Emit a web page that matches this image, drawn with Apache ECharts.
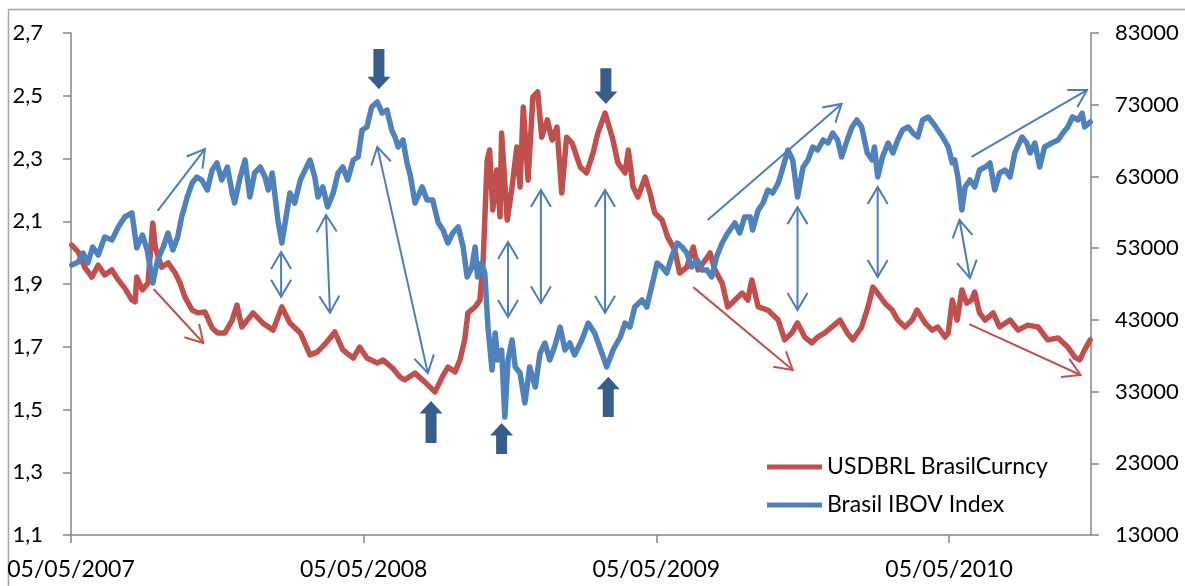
<!DOCTYPE html>
<html>
<head>
<meta charset="utf-8">
<script src="https://cdn.jsdelivr.net/npm/echarts@6/dist/echarts.min.js"></script>
<style>
  html, body { margin: 0; padding: 0; background: #ffffff; }
  #chart { width: 1185px; height: 586px; }
</style>
</head>
<body>
<div id="chart"></div>
<script>
// ---- data (x = days since 05/05/2007) ----
const startDate = '05/05/2007';
const xTickLabels = ['05/05/2007', '05/05/2008', '05/05/2009', '05/05/2010'];
const leftTicks = [1.1, 1.3, 1.5, 1.7, 1.9, 2.1, 2.3, 2.5, 2.7];
const rightTicks = [13000, 23000, 33000, 43000, 53000, 63000, 73000, 83000];
const seriesNames = ['USDBRL BrasilCurncy', 'Brasil IBOV Index'];

const usdbrl = [[1,2.024],[9,2.002],[17,1.954],[26,1.922],[34,1.960],[42,1.929],[51,1.945],[59,1.913],[67,1.887],[76,1.849],[80,1.843],[82,1.922],[89,1.881],[96,1.903],[102,2.094],[105,2.018],[113,1.954],[121,1.967],[130,1.935],[136,1.903],[142,1.859],[151,1.817],[158,1.808],[167,1.811],[176,1.760],[183,1.744],[192,1.744],[201,1.785],[207,1.833],[213,1.763],[227,1.808],[239,1.776],[252,1.753],[263,1.827],[273,1.776],[286,1.744],[298,1.674],[307,1.683],[319,1.715],[329,1.747],[339,1.690],[352,1.664],[360,1.699],[369,1.664],[382,1.648],[389,1.658],[401,1.632],[410,1.604],[416,1.594],[429,1.616],[441,1.588],[454,1.556],[463,1.604],[470,1.635],[479,1.620],[485,1.658],[491,1.722],[495,1.808],[504,1.827],[510,1.849],[514,1.976],[519,2.295],[522,2.327],[526,2.136],[531,2.263],[535,2.114],[537,2.381],[544,2.104],[550,2.209],[556,2.337],[560,2.209],[564,2.464],[570,2.231],[576,2.496],[582,2.512],[587,2.368],[594,2.423],[600,2.359],[606,2.400],[612,2.190],[618,2.368],[625,2.349],[635,2.273],[643,2.254],[651,2.317],[657,2.381],[666,2.445],[675,2.368],[682,2.286],[691,2.254],[695,2.327],[701,2.209],[707,2.177],[716,2.241],[722,2.190],[728,2.126],[737,2.104],[744,2.050],[753,2.008],[759,1.935],[768,1.954],[776,2.018],[782,1.945],[791,1.976],[797,1.999],[803,1.945],[812,1.903],[819,1.827],[828,1.849],[837,1.871],[844,1.849],[849,1.913],[857,1.827],[869,1.817],[882,1.785],[890,1.722],[899,1.744],[906,1.776],[915,1.731],[924,1.712],[931,1.731],[940,1.744],[949,1.763],[959,1.785],[968,1.744],[975,1.722],[986,1.763],[994,1.827],[1000,1.890],[1006,1.871],[1015,1.839],[1024,1.817],[1031,1.785],[1040,1.763],[1049,1.785],[1055,1.817],[1065,1.776],[1074,1.753],[1081,1.763],[1090,1.731],[1094,1.744],[1099,1.849],[1105,1.785],[1111,1.881],[1117,1.839],[1123,1.849],[1127,1.874],[1133,1.808],[1140,1.785],[1150,1.808],[1158,1.763],[1171,1.785],[1181,1.753],[1193,1.769],[1206,1.763],[1218,1.722],[1231,1.728],[1243,1.699],[1252,1.667],[1258,1.658],[1264,1.690],[1271,1.722]];

const ibov = [[1,50650],[9,51070],[15,52320],[21,50930],[27,53160],[34,52040],[42,54550],[51,54130],[59,55950],[67,57340],[76,57900],[82,53020],[89,54830],[95,52740],[102,48140],[108,51350],[115,53160],[121,55110],[127,52740],[133,54550],[138,57340],[145,60130],[151,62080],[157,62920],[163,62500],[170,61110],[176,63900],[182,64870],[188,62500],[195,64310],[201,60690],[204,59290],[211,62920],[217,65290],[223,60130],[229,63480],[236,64310],[242,62920],[246,61110],[251,63480],[254,60690],[258,56920],[263,53720],[269,57900],[273,60690],[279,59290],[286,62500],[292,63900],[298,65290],[304,62920],[308,60130],[314,61530],[320,58740],[327,60690],[333,63480],[339,64310],[345,62500],[352,65290],[358,65710],[363,69470],[369,69890],[375,72680],[382,73380],[388,71840],[394,72260],[400,69470],[404,68500],[408,67100],[414,68080],[419,64870],[423,63200],[429,59290],[438,61530],[444,59710],[451,59710],[458,56510],[464,55530],[470,53720],[476,55110],[483,55950],[489,53160],[494,48980],[500,50370],[504,53160],[507,48980],[512,50930],[516,49530],[520,42000],[525,36010],[529,41170],[532,37400],[537,38800],[541,29450],[545,37400],[550,40190],[554,36430],[560,35590],[566,31410],[572,36430],[579,33640],[585,38380],[591,39770],[597,37400],[603,39210],[610,42000],[616,38800],[622,39770],[628,38100],[637,40190],[645,42560],[653,41170],[662,38380],[668,36430],[676,38800],[685,40610],[691,42560],[697,42000],[703,44790],[712,45770],[718,44790],[724,47580],[731,50930],[737,50370],[743,49530],[749,51760],[756,53720],[762,53160],[768,52320],[774,50370],[781,51350],[787,49950],[793,49950],[799,48980],[805,51760],[812,53720],[819,55110],[828,56510],[834,55110],[840,57340],[847,57340],[850,55530],[857,58320],[863,59290],[869,61110],[875,60690],[882,62080],[888,64310],[894,66680],[900,65290],[906,60130],[913,64310],[919,65290],[925,67100],[931,66680],[938,68080],[944,67660],[950,69050],[956,68080],[961,65710],[968,68080],[974,69890],[980,70870],[986,69890],[993,66270],[999,65290],[1002,67100],[1006,62920],[1012,65710],[1019,67660],[1025,66270],[1031,68080],[1037,69470],[1044,69890],[1050,69050],[1056,68500],[1062,70870],[1069,71290],[1075,70450],[1081,69470],[1087,68500],[1094,67100],[1099,64870],[1102,65290],[1106,62920],[1111,58320],[1115,61530],[1121,62500],[1127,61530],[1133,63900],[1140,64310],[1146,64870],[1152,61110],[1158,63480],[1165,63900],[1171,62920],[1177,66270],[1186,68500],[1192,67660],[1196,66270],[1202,67660],[1208,64310],[1214,67100],[1223,67660],[1231,68080],[1237,69050],[1243,69890],[1249,71290],[1256,70870],[1261,71840],[1264,69890],[1271,70590]];

// annotation arrows: [day1, v1, day2(head), v2(head), headAtStart(0/1), colour(0 blue / 1 red)] in left-axis units
const thinArrows = [
  [108,2.133,167,2.330,0,0],
  [103,1.884,165,1.712,0,1],
  [262,1.859,262,2.002,1,0],
  [323,1.808,318,2.120,1,0],
  [445,1.616,382,2.337,1,0],
  [545,1.795,545,2.034,1,0],
  [586,1.839,586,2.200,1,0],
  [666,1.808,666,2.200,1,0],
  [794,2.104,961,2.474,0,0],
  [776,1.890,900,1.626,0,1],
  [906,1.817,906,2.145,1,0],
  [1006,1.922,1006,2.209,1,0],
  [1121,1.919,1108,2.104,1,0],
  [1123,2.305,1267,2.518,0,0],
  [1120,1.772,1259,1.610,0,1]
];
// block arrows: [day, tip value, tail value] in left-axis units
const blockArrows = [
  [384,2.521,2.649],
  [449,1.527,1.393],
  [537,1.457,1.358],
  [670,1.604,1.476],
  [667,2.474,2.588]
];

const RED = '#C0504D', BLUE = '#4F81BD', ARROW_BLUE = '#4A7EBB', DARK = '#385D8A';
const FONT = 'Lato, "Open Sans", sans-serif';

const chart = echarts.init(document.getElementById('chart'), null, { renderer: 'canvas' });

function thinArrowItem(params, api) {
  const p1 = api.coord([api.value(0), api.value(1)]);
  const p2 = api.coord([api.value(2), api.value(3)]);
  const both = api.value(4) === 1;
  const color = api.value(5) === 1 ? RED : ARROW_BLUE;
  const children = [{
    type: 'line',
    shape: { x1: p1[0], y1: p1[1], x2: p2[0], y2: p2[1] },
    style: { stroke: color, lineWidth: 2 }
  }];
  function head(tip, from) {
    const dx = tip[0] - from[0], dy = tip[1] - from[1];
    const len = Math.sqrt(dx * dx + dy * dy) || 1;
    const ux = dx / len, uy = dy / len;
    const nx = -uy, ny = ux;
    const L = 17, W = 10;
    return {
      type: 'polyline',
      shape: { points: [
        [tip[0] - L * ux + W * nx, tip[1] - L * uy + W * ny],
        [tip[0], tip[1]],
        [tip[0] - L * ux - W * nx, tip[1] - L * uy - W * ny]
      ] },
      style: { stroke: color, lineWidth: 2, fill: null }
    };
  }
  children.push(head(p2, p1));
  if (both) children.push(head(p1, p2));
  return { type: 'group', children: children };
}

function blockArrowItem(params, api) {
  const tip = api.coord([api.value(0), api.value(1)]);
  const tail = api.coord([api.value(0), api.value(2)]);
  const x = tip[0];
  const dir = tail[1] > tip[1] ? 1 : -1;
  const hb = tip[1] + dir * 12.5;
  const sw = 5.5, hw = 11.5;
  return {
    type: 'polygon',
    shape: { points: [
      [x - sw, tail[1]], [x + sw, tail[1]], [x + sw, hb], [x + hw, hb],
      [x, tip[1]], [x - hw, hb], [x - sw, hb]
    ] },
    style: { fill: DARK }
  };
}

const option = {
  animation: false,
  backgroundColor: '#ffffff',
  graphic: [{
    type: 'rect',
    shape: { x: 8.5, y: 9.5, width: 1200, height: 620 },
    style: { fill: null, stroke: '#A6A6A6', lineWidth: 1.5 },
    silent: true, z: -1
  }],
  grid: { left: 71, right: 94, top: 33, bottom: 51 },
  legend: {
    data: seriesNames,
    orient: 'vertical',
    left: 762, top: 450,
    icon: 'rect',
    itemWidth: 55, itemHeight: 5, itemGap: 14,
    textStyle: { fontFamily: FONT, fontSize: 23, color: '#000', lineHeight: 24 }
  },
  xAxis: {
    type: 'value',
    min: 0, max: 1272, interval: 365,
    axisLine: { lineStyle: { color: '#868686', width: 1.5 } },
    axisTick: { show: true, length: 8, inside: false, lineStyle: { color: '#868686', width: 1.5 } },
    splitLine: { show: false },
    axisLabel: {
      fontFamily: FONT, fontSize: 23, color: '#000', margin: 23,
      showMaxLabel: false,
      formatter: function (v) { return xTickLabels[Math.round(v / 365)] || ''; }
    }
  },
  yAxis: [{
    type: 'value', position: 'left',
    min: leftTicks[0], max: leftTicks[leftTicks.length - 1], interval: 0.2,
    axisLine: { show: true, lineStyle: { color: '#868686', width: 1.5 } },
    axisTick: { show: true, length: 8, lineStyle: { color: '#868686', width: 1.5 } },
    splitLine: { show: false },
    axisLabel: {
      fontFamily: FONT, fontSize: 22, color: '#000', margin: 28,
      formatter: function (v) { return v.toFixed(1).replace('.', ','); }
    }
  }, {
    type: 'value', position: 'right',
    min: rightTicks[0], max: rightTicks[rightTicks.length - 1], interval: 10000,
    axisLine: { show: true, lineStyle: { color: '#868686', width: 1.5 } },
    axisTick: { show: true, length: 8, lineStyle: { color: '#868686', width: 1.5 } },
    splitLine: { show: false },
    axisLabel: {
      fontFamily: FONT, fontSize: 22, color: '#000', margin: 24,
      formatter: function (v) { return String(Math.round(v)); }
    }
  }],
  series: [{
    name: seriesNames[0], type: 'line', yAxisIndex: 0,
    data: usdbrl, showSymbol: false, symbol: 'none',
    lineStyle: { color: RED, width: 5.5, join: 'round', cap: 'round' },
    itemStyle: { color: RED }, z: 2
  }, {
    name: seriesNames[1], type: 'line', yAxisIndex: 1,
    data: ibov, showSymbol: false, symbol: 'none',
    lineStyle: { color: BLUE, width: 5.5, join: 'round', cap: 'round' },
    itemStyle: { color: BLUE }, z: 3
  }, {
    name: 'arrows', type: 'custom', yAxisIndex: 0,
    renderItem: thinArrowItem, data: thinArrows,
    encode: { x: [0, 2], y: [1, 3] }, z: 4, silent: true, clip: false
  }, {
    name: 'blocks', type: 'custom', yAxisIndex: 0,
    renderItem: blockArrowItem, data: blockArrows,
    encode: { x: 0, y: [1, 2] }, z: 5, silent: true, clip: false
  }]
};
chart.setOption(option);
</script>
</body>
</html>
